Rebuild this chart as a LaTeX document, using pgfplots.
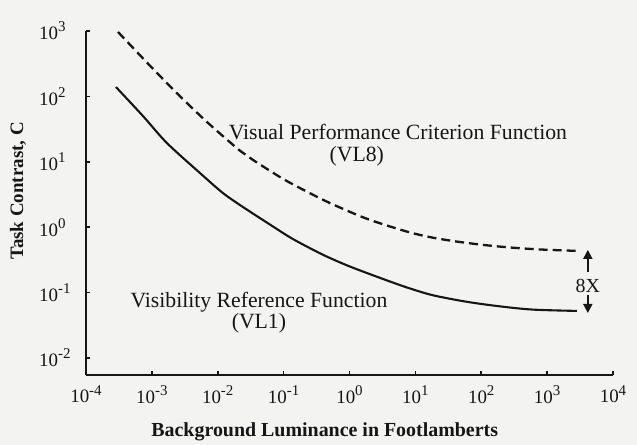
\documentclass[border=0pt]{standalone}
\usepackage{fontspec}
\setmainfont{Liberation Serif}
\usepackage{pgfplots}
\pgfplotsset{compat=1.18}
\usetikzlibrary{arrows.meta}
\definecolor{ink}{RGB}{22,22,22}
\definecolor{paper}{RGB}{243,243,241}
\newcommand\tl[1]{10\raisebox{0.42em}{\fontsize{15}{15}\selectfont #1}}
\begin{document}
\begin{tikzpicture}
\fill[paper] (-86bp,-70bp) rectangle (551bp,375bp);
\useasboundingbox (-86bp,-70bp) rectangle (551bp,375bp);
\begin{axis}[
  at={(0,0)}, anchor=south west,
  scale only axis, width=527bp, height=344bp,
  xmode=log, ymode=log,
  xmin=1e-4, xmax=1e4, ymin=5.5e-3, ymax=1e3,
  axis x line=bottom, axis y line=left,
  axis line style={-, line width=2.6bp, ink},
  xtick={1e-4,1e-3,1e-2,1e-1,1,1e1,1e2,1e3,1e4},
  xticklabels={\tl{-4},\tl{-3},\tl{-2},\tl{-1},\tl{0},\tl{1},\tl{2},\tl{3},\tl{4}},
  ytick={1e-2,1e-1,1,1e1,1e2,1e3},
  yticklabels={\tl{-2},\tl{-1},\tl{0},\tl{1},\tl{2},\tl{3}},
  xminorticks=false, yminorticks=false,
  tick align=inside, major tick length=4.5bp,
  tick style={line width=1.6bp, ink},
  ticklabel style={font=\fontsize{19}{21}\selectfont, text=ink},
  xticklabel style={anchor=north, inner sep=0pt, yshift=-10bp},
  yticklabel style={anchor=west, inner sep=0pt, xshift=-47bp},
  clip=false,
]
\addplot[ink, line width=2.1bp, smooth, tension=0.5] coordinates {
  (2.85e-4,139) (7.33e-4,50.1) (1.69e-3,19.4) (5.37e-3,6.74) (1.20e-2,3.33)
  (2.41e-2,2.04) (6.19e-2,1.10) (0.138,0.661) (0.394,0.380) (1.01,0.251)
  (3.21,0.162) (7.43,0.120) (18.4,0.0912) (60.4,0.0724) (191,0.0617)
  (607,0.0550) (2825,0.0525)
};
\addplot[ink, line width=2.3bp, dash pattern=on 9bp off 5bp, smooth, tension=0.5] coordinates {
  (3.06e-4,966) (9.35e-4,295) (2.40e-3,112) (6.85e-3,40.7) (2.17e-2,14.8)
  (3.42e-2,10.7) (9.75e-2,5.50) (0.251,3.31) (0.505,2.34) (1.44,1.48)
  (2.89,1.15) (8.26,0.832) (18.4,0.692) (42.7,0.603) (106,0.537)
  (272,0.490) (775,0.457) (3133,0.433)
};
\node[font=\fontsize{21.8}{24}\selectfont, text=ink] at (axis cs:5.43,28.5) {Visual Performance Criterion Function};
\node[font=\fontsize{21.8}{24}\selectfont, text=ink] at (axis cs:1.29,12.0) {(VL8)};
\node[font=\fontsize{21.8}{24}\selectfont, text=ink] at (axis cs:0.0422,0.0718) {Visibility Reference Function};
\node[font=\fontsize{21.8}{24}\selectfont, text=ink] at (axis cs:0.0422,0.0345) {(VL1)};
\draw[ink, line width=1.8bp, -{Triangle[length=9bp,width=9bp]}] (axis cs:4150,0.206) -- (axis cs:4150,0.45);
\draw[ink, line width=1.8bp, -{Triangle[length=9bp,width=9bp]}] (axis cs:4150,0.0918) -- (axis cs:4150,0.0488);
\node[font=\fontsize{20}{22}\selectfont, text=ink] at (axis cs:4150,0.125) {8X};
\node[rotate=90, font=\bfseries\fontsize{19}{21}\selectfont, text=ink] at (rel axis cs:-0.129,0.535) {Task Contrast, C};
\node[font=\bfseries\fontsize{20}{22}\selectfont, text=ink] at (rel axis cs:0.453,-0.166) {Background Luminance in Footlamberts};
\end{axis}
\end{tikzpicture}
\end{document}
